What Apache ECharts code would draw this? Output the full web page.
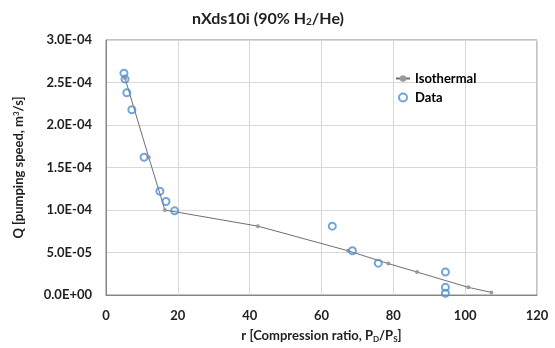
<!DOCTYPE html>
<html><head><meta charset="utf-8">
<script src="https://cdn.jsdelivr.net/npm/echarts@6/dist/echarts.min.js"></script>
<style>html,body{margin:0;padding:0;background:#fff}#c{width:555px;height:348px}</style>
</head><body><div id="c"></div>
<script>
var isoR = [5.3, 11.9, 16.4, 42.3, 67.4, 78.6, 86.6, 100.9, 107.3];
var isoQ = [2.55e-4, 1.62e-4, 1.0e-4, 0.81e-4, 0.52e-4, 0.37e-4, 0.27e-4, 0.09e-4, 0.03e-4];
var dataR = [5.0, 5.3, 5.8, 7.2, 10.6, 15.0, 16.7, 19.1, 63.0, 68.6, 75.8, 94.5, 94.5, 94.5];
var dataQ = [2.61e-4, 2.54e-4, 2.38e-4, 2.18e-4, 1.62e-4, 1.22e-4, 1.10e-4, 0.99e-4, 0.81e-4, 0.52e-4, 0.375e-4, 0.27e-4, 0.09e-4, 0.02e-4];
var xTicks = [0, 20, 40, 60, 80, 100, 120];
var yTicks = [0, 5e-5, 1e-4, 1.5e-4, 2e-4, 2.5e-4, 3e-4];

function fmtE(v) {
  var s = Number(v).toExponential(1).toUpperCase();
  var m = s.match(/^(-?[\d.]+)E([+-])(\d+)$/);
  if (!m) return s;
  var e = m[3].length < 2 ? '0' + m[3] : m[3];
  return m[1] + 'E' + m[2] + e;
}
var FONT = 'Lato';
var TXT = '#1f1f1f';
var chart = echarts.init(document.getElementById('c'));
chart.setOption({
  animation: false,
  textStyle: {fontFamily: FONT},
  title: {
    text: 'nXds10i (90% H{sub|2}/He)',
    left: 263, top: 5, textAlign: 'center',
    textStyle: {fontFamily: FONT, fontSize: 16, fontWeight: 'bold', color: TXT,
      rich: {sub: {fontFamily: FONT, fontSize: 10, fontWeight: 'bold', color: TXT, verticalAlign: 'bottom', padding: [7, 0, 0, 0]}}}
  },
  legend: {
    left: 390, top: 67, orient: 'vertical', itemGap: 6, itemWidth: 14, itemHeight: 8,
    textStyle: {fontFamily: FONT, fontSize: 13, fontWeight: 'bold', color: '#000'},
    data: [{name: 'Isothermal'}, {name: 'Data'}]
  },
  grid: {left: 106, right: 18, top: 40, bottom: 52, show: true, borderColor: '#868686', borderWidth: 1},
  xAxis: {
    type: 'value', min: 0, max: 120, interval: 20,
    name: 'r [Compression ratio, P{sub|D}/P{sub|S}]', nameLocation: 'middle', nameGap: 34,
    nameTextStyle: {fontFamily: FONT, fontSize: 13, fontWeight: 'bold', color: TXT,
      rich: {sub: {fontFamily: FONT, fontSize: 8, fontWeight: 'bold', color: TXT, verticalAlign: 'bottom', padding: [6, 0, 0, 0]}}},
    axisLine: {show: true, lineStyle: {color: '#868686'}},
    axisTick: {show: false},
    axisLabel: {fontFamily: FONT, fontSize: 13, fontWeight: 'bold', color: TXT, margin: 14},
    splitLine: {show: true, lineStyle: {color: '#d9d9d9'}}
  },
  yAxis: {
    type: 'value', min: 0, max: 3e-4, interval: 5e-5,
    name: 'Q [pumping speed, m{sup|3}/s]', nameLocation: 'middle', nameGap: 80, nameRotate: 90,
    nameTextStyle: {fontFamily: FONT, fontSize: 13, fontWeight: 'bold', color: TXT,
      rich: {sup: {fontFamily: FONT, fontSize: 8, fontWeight: 'bold', color: TXT, verticalAlign: 'top', padding: [0, 0, 6, 0]}}},
    axisLine: {show: true, lineStyle: {color: '#868686'}},
    axisTick: {show: false},
    axisLabel: {fontFamily: FONT, fontSize: 13, fontWeight: 'bold', color: TXT, margin: 14, formatter: fmtE},
    splitLine: {show: true, lineStyle: {color: '#d9d9d9'}}
  },
  series: [
    {
      name: 'Isothermal', type: 'line', smooth: false,
      data: isoR.map(function (r, i) { return [r, isoQ[i]]; }),
      symbol: 'circle', symbolSize: 4,
      lineStyle: {color: '#6e6e6e', width: 1},
      itemStyle: {color: '#9a9a9a'},
      z: 2
    },
    {
      name: 'Data', type: 'scatter',
      data: dataR.map(function (r, i) { return [r, dataQ[i]]; }),
      symbol: 'circle', symbolSize: 7,
      itemStyle: {color: 'rgba(255,255,255,0)', borderColor: '#4f8fcf', borderWidth: 2},
      z: 3
    }
  ]
});
</script></body></html>
